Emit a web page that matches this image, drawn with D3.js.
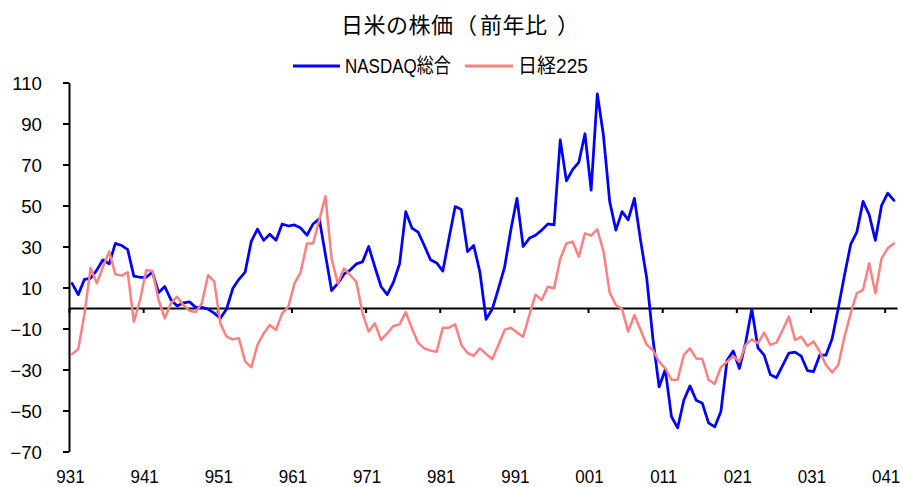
<!DOCTYPE html>
<html>
<head>
<meta charset="utf-8">
<script src="https://cdn.jsdelivr.net/npm/d3@7"></script>
<style>
  html, body { margin: 0; padding: 0; background: #fff; }
  svg { display: block; }
  text { font-family: "Liberation Sans", Arial, "Noto Sans CJK JP", sans-serif; fill: #000; }
</style>
</head>
<body>
<svg id="chart" width="903" height="487"></svg>
<script>
// ---------------- data ----------------
const titleParts = ["日米の株価", "（", "前年比", "）"];
const seriesNames = ["NASDAQ総合", "日経225"];
// monthly categories, 1993/1 .. 2004/2 (label = yy + month)
const startYear = 93, monthCount = 134;
const categories = d3.range(monthCount).map(i =>
  String((startYear + Math.floor(i / 12)) % 100).padStart(2, "0") + (i % 12 + 1));
const tickLabels = ["931","941","951","961","971","981","991","001","011","021","031","041"];
const yTicks = [-70, -50, -30, -10, 10, 30, 50, 70, 90, 110];

const nasdaq = [
  12, 6.5, 14, 14.5, 18.5, 23.5, 21.5, 31.5, 30.5, 28.5, 15.5, 15,
  15, 17.5, 7.5, 10.5, 4, 1, 2.5, 3, 0.3, 0.3, -0.5, -2.5,
  -5, -0.5, 9.5, 14, 17.5, 32.5, 38.5, 33, 36, 33, 41, 40,
  40.5, 39, 35.5, 41, 43.5, 26, 8.5, 12, 16.5, 18.5, 21.5, 22.5,
  30, 20, 10.5, 6.5, 12.5, 21.5, 47, 39, 37, 30.5, 23.5, 22,
  18, 34, 49.5, 48, 27.5, 30.5, 17.5, -5.5, -0.5, 9.5, 20, 38,
  53.5, 30, 34, 35.5, 38, 41, 40.5, 82, 62, 67.5, 71, 85,
  57.5, 104.5, 84, 52, 38, 47, 43, 53.5, 33, 14.5, -15, -38.5,
  -30, -53, -58.5, -45, -38, -45, -46.5, -56, -58, -50.5, -25.5, -21,
  -29.5, -17, -0.5, -19.5, -23, -32.5, -34, -28, -22, -21.5, -23.5, -30.5,
  -31, -23, -23, -15, 0, 16, 31, 37, 52, 45.5, 33, 50,
  56, 52.5
];
const nikkei = [
  -22.5, -20, -3, 19.5, 12, 20, 27.5, 16.5, 15.8, 17.4, -6.7, 3.9,
  18.5, 18, 3.9, -5, 2.3, 5.5, 1.5, -1.3, -2, 2.3, 16, 13,
  -7.5, -14, -15.3, -14.8, -26, -29, -18, -12.4, -8.3, -10.7, -2.6, 0.7,
  12, 17.5, 31.5, 31.5, 43, 54.5, 24, 12, 19.3, 16, 12.8, -2.6,
  -11.5, -7.5, -15.6, -12.4, -8.8, -8, -2, -10, -17, -19.7, -20.8, -21.3,
  -9.6, -9.6, -8, -18, -22, -23.3, -19.7, -22.4, -25, -18, -10.7, -9.6,
  -12, -14, -3.4, 6.5, 3.9, 10.4, 9.6, 24, 31.5, 32.4, 25, 36.4,
  35.3, 38.4, 27.5, 7.5, 1.5, -0.5, -11.5, -3.4, -10.7, -18, -20.5, -26.2,
  -29.4, -35, -35, -22.9, -19.7, -24.6, -24.9, -35, -37, -28.9, -26.2, -23.4,
  -26.2, -18, -15.3, -17.2, -12, -18, -16.9, -10.7, -4.2, -15.6, -14, -18.5,
  -16.3, -21.3, -27.8, -31.5, -27.8, -14, -2.6, 7.2, 8.8, 21.8, 7.2, 24.2,
  29.1, 31.5
];
const colors = ["#0000ff", "#ff8080"];

// ---------------- chart ----------------
const svg = d3.select("#chart");
const x = d3.scaleLinear().domain([0, monthCount]).range([69, 897]);
const y = d3.scaleLinear().domain([-70, 110]).range([451.5, 82.5]);

// title (chunks placed to mimic the original spacing of the brackets)
const titleX = [341, 455, 480, 557];
const t = svg.append("text")
  .attr("y", 33)
  .style("font-family", "'Noto Sans CJK JP', sans-serif")
  .style("font-size", "22px");
titleParts.forEach((p, i) => {
  t.append("tspan").attr("x", titleX[i])
    .style("letter-spacing", i === 0 || i === 2 ? "0.5px" : "0px")
    .text(p);
});

// legend
const legend = [
  { name: seriesNames[0], color: colors[0], x1: 293, x2: 340, tx: 345, sx: 1.0 },
  { name: seriesNames[1], color: colors[1], x1: 465, x2: 513, tx: 518, sx: 1.12 }
];
legend.forEach(l => {
  svg.append("line").attr("x1", l.x1).attr("x2", l.x2).attr("y1", 66).attr("y2", 66)
    .attr("stroke", l.color).attr("stroke-width", 3);
  svg.append("text")
    .attr("transform", `translate(${l.tx},73) scale(${l.sx},1.2)`)
    .style("font-size", "17px")
    .text(l.name);
});

// y axis
const yAxis = d3.axisLeft(y).tickValues(yTicks).tickSize(6).tickSizeOuter(0);
const gy = svg.append("g").attr("transform", "translate(69,0)").call(yAxis);
gy.select(".domain").attr("stroke", "#000").attr("stroke-width", 2);
gy.selectAll(".tick line").attr("stroke", "#000").attr("stroke-width", 2);
gy.selectAll(".tick text")
  .attr("x", null).attr("dy", null)
  .attr("transform", "translate(-27,6.5) scale(1.1,1.05)")
  .style("font-size", "17px")
  .attr("fill", "#000");

// x axis at zero
const xAxis = d3.axisBottom(x)
  .tickValues(d3.range(0, monthCount, 12))
  .tickFormat(i => categories[i])
  .tickSize(5).tickSizeOuter(0);
const gx = svg.append("g").attr("transform", `translate(0,${y(0)})`).call(xAxis);
gx.select(".domain").attr("stroke", "#000").attr("stroke-width", 2);
gx.selectAll(".tick line").attr("stroke", "#000").attr("stroke-width", 2);
gx.selectAll(".tick text")
  .attr("y", null).attr("dy", null)
  .attr("transform", `translate(1,${483 - y(0)}) scale(1,1.12)`)
  .style("font-size", "17px")
  .attr("fill", "#000");

// lines
const line = d3.line().x((d, i) => x(i + 0.5)).y(d => y(d));
[[nasdaq, colors[0], 2.75], [nikkei, colors[1], 2.5]].forEach(([data, c, w]) => {
  svg.append("path").datum(data)
    .attr("fill", "none").attr("stroke", c).attr("stroke-width", w)
    .attr("stroke-linejoin", "round").attr("stroke-linecap", "round")
    .attr("d", line);
});
</script>
</body>
</html>
